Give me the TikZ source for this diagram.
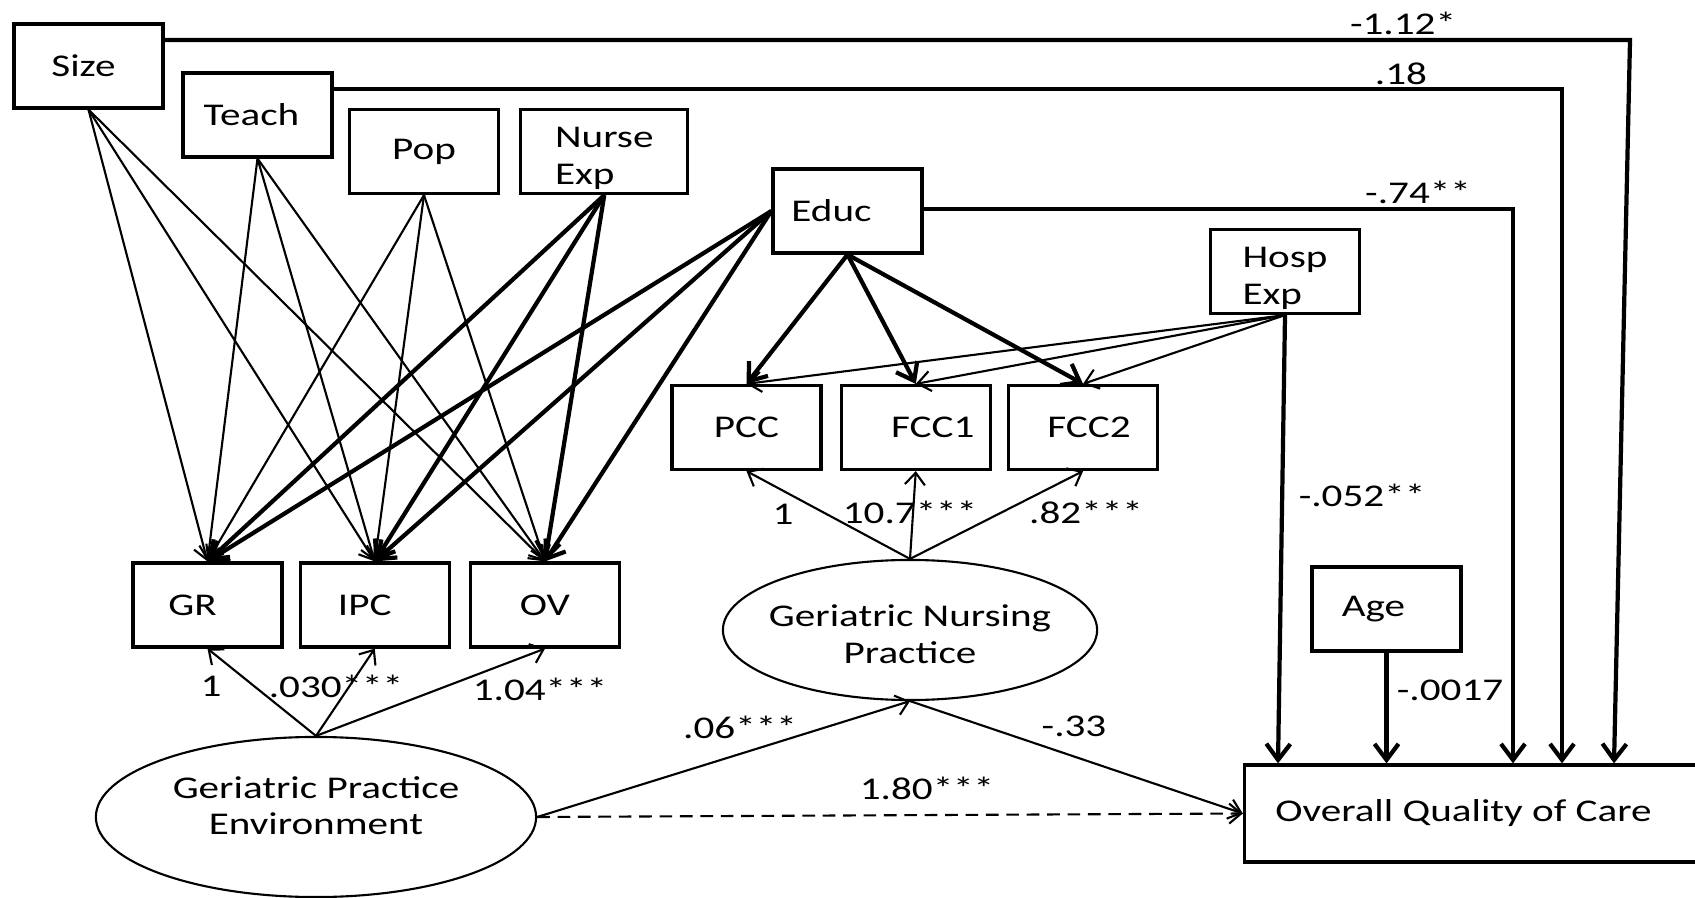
\documentclass[tikz,border=0pt]{standalone}
\usepackage{fontspec}
\setmainfont{Carlito}[FakeStretch=1.3]
\usetikzlibrary{arrows.meta, positioning, shapes.geometric}
\newcommand{\lvtext}[2][0pt]{\makebox[0pt]{\smash{\raisebox{#1}{\begin{tabular}{@{}c@{}}#2\end{tabular}}}}}
\tikzset{
  var/.style={rectangle, draw, line width=0.9pt, minimum width=1.49cm, minimum height=0.84cm,
              inner sep=1pt, align=left},
  latent/.style={ellipse, draw, line width=0.6pt, minimum width=4.4cm, minimum height=1.6cm, inner sep=0pt},
  coef/.style={inner sep=0pt},
  thinarr/.style={-{Straight Barb[length=1.3mm, width=2mm]}, line width=0.6pt},
  thickarr/.style={-{Straight Barb[length=1.6mm, width=2.4mm]}, line width=1.2pt},
  load/.style={-{Straight Barb[length=1.2mm, width=2mm]}, line width=0.6pt},
}
\begin{document}
\begin{tikzpicture}[x=0.01cm, y=-0.01cm, font=\fontsize{9}{10.5}\selectfont]
  \useasboundingbox (0,0) rectangle (1695,898);
  % covariates
  \node[var] (size) at (88.5,66) {Size\hspace*{0.1cm}};
  \node[var] (teach) at (257.5,115) {Teach\hspace*{0.12cm}};
  \node[var] (pop) at (424,151.5) {Pop};
  \node[var, minimum width=1.67cm, right=0.19cm of pop] (nexp) {\rule{0pt}{9.5pt}Nurse\\Exp};
  \node[var] (educ) at (847.5,211) {Educ\hspace*{0.32cm}};
  \node[var] (hosp) at (1285,271.5) {\rule{0pt}{9.5pt}Hosp\\Exp};
  \node[var] (age) at (1386.5,609) {Age\hspace*{0.26cm}};
  % indicators
  \node[var] (gr) at (207.5,605) {GR\hspace*{0.3cm}};
  \node[var, right=0.15cm of gr] (ipc) {IPC\hspace*{0.2cm}};
  \node[var, right=0.18cm of ipc] (ov) {OV};
  \node[var] (pcc) at (746.5,427.5) {PCC};
  \node[var, right=0.17cm of pcc] (fcc1) {\hspace*{0.34cm}FCC1};
  \node[var, right=0.15cm of fcc1] (fcc2) {\hspace*{0.12cm}FCC2};
  % latent variables and outcome
  \node[latent] (gpe) at (316,817) {\lvtext{Geriatric Practice\\Environment}};
  \node[latent, minimum width=3.74cm, minimum height=1.4cm] (gnp) at (910,630)
      {\lvtext[-4.3pt]{Geriatric Nursing\\Practice}};
  \node[var, align=center, minimum width=4.55cm, minimum height=0.97cm] (oqc) at (1472,813.5)
      {Overall Quality of Care\hspace*{0.17cm}};

  % covariates -> practice environment indicators
  \draw[thinarr] (size.south) -- (gr.north);
  \draw[thinarr] (size.south) -- (ipc.north);
  \draw[thinarr] (size.south) -- (ov.north);
  \draw[thinarr] (teach.south) -- (gr.north);
  \draw[thinarr] (teach.south) -- (ipc.north);
  \draw[thinarr] (teach.south) -- (ov.north);
  \draw[thinarr] (pop.south) -- (gr.north);
  \draw[thinarr] (pop.south) -- (ipc.north);
  \draw[thinarr] (pop.south) -- (ov.north);
  \draw[thickarr] (nexp.south) -- (gr.north);
  \draw[thickarr] (nexp.south) -- (ipc.north);
  \draw[thickarr] (nexp.south) -- (ov.north);
  \draw[thickarr] (educ.west) -- (gr.north);
  \draw[thickarr] (educ.west) -- (ipc.north);
  \draw[thickarr] (educ.west) -- (ov.north);

  % covariates -> nursing practice indicators
  \draw[thickarr] (educ.south) -- (pcc.north);
  \draw[thickarr] (educ.south) -- (fcc1.north);
  \draw[thickarr] (educ.south) -- (fcc2.north);
  \draw[thinarr] (hosp.south) -- (pcc.north);
  \draw[thinarr] (hosp.south) -- (fcc1.north);
  \draw[thinarr] (hosp.south) -- (fcc2.north);

  % direct effects on quality of care
  \coordinate (szdown) at (1630,40);
  \coordinate (szfoot) at (1614,0);
  \coordinate (tchdown) at (1562,89);
  \coordinate (edudown) at (1513,209);
  \draw[thickarr] (size.east |- szdown) -- (szdown) -- (szfoot |- oqc.north);
  \draw[thickarr] (teach.east |- tchdown) -- (tchdown) -- (tchdown |- oqc.north);
  \draw[thickarr] (educ.east |- edudown) -- (edudown) -- (edudown |- oqc.north);
  \draw[thickarr] (hosp.south) -- ([xshift=-0.07cm]hosp.south |- oqc.north);
  \draw[thickarr] (age.south) -- (age.south |- oqc.north);

  % measurement and structural paths
  \draw[load] (gpe.north) -- (gr.south);
  \draw[load] (gpe.north) -- (ipc.south);
  \draw[load] (gpe.north) -- (ov.south);
  \draw[load] (gnp.north) -- (pcc.south);
  \draw[load] (gnp.north) -- (fcc1.south);
  \draw[load] (gnp.north) -- (fcc2.south);
  \draw[load] (gpe.east) -- (gnp.south);
  \draw[load] (gnp.south) -- (oqc.west);
  \draw[load, dash pattern=on 3.6pt off 2.2pt] (gpe.east) -- (oqc.west);

  % coefficients
  \node[coef] (bsize) at (1403,23) {-1.12*};
  \node[coef] (bteach) at (1401,74) {.18};
  \node[coef] (beduc) at (1418,192) {-.74**};
  \node[coef] (bhosp) at (1362,495) {-.052**};
  \node[coef] (bage) at (1450,690) {-.0017};
  \node[coef] (bgnp) at (1074,726) {-.33};
  \node[coef] (bgpe) at (927,788) {1.80***};
  \node[coef] (bgg) at (740,727) {.06***};
  \node[coef] (lgr) at (211,686) {1};
  \node[coef] (lipc) at (336,686) {.030***};
  \node[coef] (lov) at (540,689) {1.04***};
  \node[coef] (lpcc) at (783,514) {1};
  \node[coef] (lfcc1) at (910,512) {10.7***};
  \node[coef] (lfcc2) at (1086,512) {.82***};
\end{tikzpicture}
\end{document}
